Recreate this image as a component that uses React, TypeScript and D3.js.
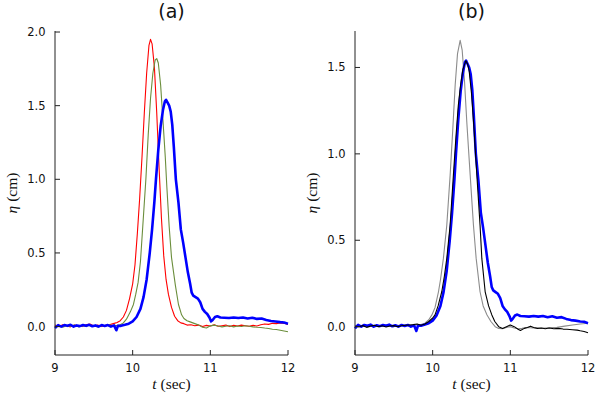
import React from "react";
import * as d3 from "d3";

const X_TICKS = [9, 10, 11, 12];
const A_Y_TICKS = [0, 0.5, 1, 1.5, 2];
const B_Y_TICKS = [0, 0.5, 1, 1.5];

// Panel (a) red
const redA: [number, number][] = [
  [9.0, 0.01], [9.05, 0.0], [9.1, 0.012], [9.15, 0.004], [9.2, -0.002], [9.25, 0.01], [9.3, 0.006], [9.35, 0.0],
  [9.4, 0.012], [9.45, 0.018], [9.5, 0.004], [9.55, 0.01], [9.6, 0.0], [9.65, 0.008], [9.7, 0.012], [9.75, 0.02],
  [9.8, 0.028], [9.84, 0.04], [9.88, 0.065], [9.92, 0.11], [9.96, 0.19], [10.0, 0.29], [10.03, 0.42], [10.06, 0.63],
  [10.09, 0.87], [10.12, 1.15], [10.15, 1.45], [10.18, 1.72], [10.21, 1.91], [10.23, 1.95], [10.25, 1.92], [10.28, 1.76],
  [10.31, 1.45], [10.34, 1.08], [10.37, 0.74], [10.4, 0.48], [10.43, 0.32], [10.46, 0.22], [10.5, 0.13], [10.54, 0.07],
  [10.58, 0.04], [10.62, 0.025], [10.66, 0.02], [10.7, 0.01], [10.75, 0.012], [10.8, 0.006], [10.85, 0.01], [10.9, 0.0],
  [10.95, 0.008], [11.0, 0.004], [11.05, 0.012], [11.1, 0.002], [11.15, 0.006], [11.2, 0.01], [11.25, 0.0], [11.3, 0.008],
  [11.35, 0.004], [11.4, 0.01], [11.45, 0.006], [11.5, 0.002], [11.55, 0.008], [11.6, 0.004], [11.65, 0.012], [11.7, 0.018],
  [11.75, 0.015], [11.8, 0.022], [11.85, 0.02], [11.9, 0.025], [11.95, 0.022], [12.0, 0.015],
];

// Panel (a) green
const greenA: [number, number][] = [
  [9.0, 0.0], [9.05, 0.008], [9.1, -0.004], [9.15, 0.006], [9.2, 0.002], [9.25, 0.01], [9.3, -0.002], [9.35, 0.006],
  [9.4, 0.0], [9.45, 0.01], [9.5, 0.004], [9.55, -0.002], [9.6, 0.008], [9.65, 0.002], [9.7, 0.012], [9.75, 0.006],
  [9.8, 0.008], [9.84, 0.012], [9.88, 0.025], [9.92, 0.05], [9.97, 0.1], [10.01, 0.15], [10.04, 0.22], [10.07, 0.3],
  [10.1, 0.44], [10.13, 0.68], [10.17, 1.0], [10.2, 1.3], [10.23, 1.55], [10.26, 1.72], [10.29, 1.81], [10.31, 1.82],
  [10.33, 1.79], [10.36, 1.64], [10.39, 1.4], [10.42, 1.15], [10.44, 0.95], [10.47, 0.68], [10.5, 0.47], [10.55, 0.28],
  [10.59, 0.15], [10.63, 0.08], [10.66, 0.055], [10.7, 0.04], [10.74, 0.032], [10.8, 0.02], [10.85, 0.01], [10.9, -0.005],
  [10.95, -0.01], [11.0, 0.005], [11.05, 0.01], [11.1, 0.004], [11.15, -0.002], [11.2, 0.002], [11.25, 0.006], [11.3, -0.002],
  [11.35, 0.004], [11.4, 0.0], [11.45, 0.006], [11.5, 0.002], [11.55, -0.002], [11.6, -0.005], [11.65, -0.006], [11.7, -0.01],
  [11.75, -0.013], [11.8, -0.018], [11.85, -0.02], [11.9, -0.025], [11.95, -0.03], [12.0, -0.035],
];

// Measured (blue), shared by both panels
const blueExp: [number, number][] = [
  [9.0, -0.01], [9.04, 0.01], [9.08, 0.0], [9.12, 0.01], [9.16, 0.005], [9.2, 0.012], [9.24, 0.0], [9.28, 0.008],
  [9.32, 0.003], [9.36, 0.01], [9.4, 0.005], [9.44, 0.012], [9.48, 0.002], [9.52, 0.008], [9.56, 0.0], [9.6, 0.01],
  [9.64, 0.004], [9.68, 0.01], [9.72, 0.0], [9.76, 0.008], [9.79, -0.025], [9.81, 0.005], [9.85, 0.005], [9.9, 0.012],
  [9.95, 0.02], [10.0, 0.035], [10.05, 0.065], [10.1, 0.12], [10.14, 0.2], [10.18, 0.32], [10.22, 0.5], [10.25, 0.66],
  [10.28, 0.85], [10.3, 1.0], [10.33, 1.2], [10.36, 1.36], [10.39, 1.47], [10.415, 1.53], [10.43, 1.54], [10.45, 1.52],
  [10.47, 1.5], [10.49, 1.46], [10.51, 1.37], [10.53, 1.22], [10.556, 1.0], [10.59, 0.84], [10.62, 0.66], [10.65, 0.57],
  [10.68, 0.47], [10.71, 0.37], [10.74, 0.29], [10.76, 0.23], [10.78, 0.21], [10.81, 0.2], [10.84, 0.19], [10.87, 0.165],
  [10.9, 0.12], [10.93, 0.1], [10.96, 0.085], [10.99, 0.06], [11.01, 0.035], [11.03, 0.045], [11.06, 0.065], [11.09, 0.07],
  [11.13, 0.062], [11.18, 0.06], [11.24, 0.058], [11.3, 0.062], [11.36, 0.058], [11.42, 0.062], [11.48, 0.055], [11.54, 0.06],
  [11.6, 0.052], [11.66, 0.055], [11.72, 0.045], [11.78, 0.038], [11.84, 0.035], [11.9, 0.03], [11.95, 0.028], [12.0, 0.02],
];

// Panel (b) gray
const grayB: [number, number][] = [
  [9.0, 0.005], [9.05, 0.0], [9.1, 0.008], [9.15, 0.003], [9.2, 0.01], [9.25, 0.0], [9.3, 0.006], [9.35, 0.002],
  [9.4, 0.009], [9.45, 0.004], [9.5, 0.0], [9.55, 0.008], [9.6, 0.005], [9.65, 0.01], [9.7, 0.003], [9.75, 0.008],
  [9.8, 0.012], [9.85, 0.012], [9.9, 0.02], [9.95, 0.04], [9.99, 0.068], [10.03, 0.11], [10.074, 0.2], [10.1, 0.27],
  [10.138, 0.395], [10.182, 0.588], [10.225, 0.877], [10.26, 1.15], [10.29, 1.4], [10.32, 1.58], [10.354, 1.657], [10.38, 1.6],
  [10.41, 1.42], [10.44, 1.18], [10.483, 0.877], [10.525, 0.588], [10.56, 0.395], [10.61, 0.202], [10.65, 0.12], [10.7, 0.068],
  [10.75, 0.03], [10.805, 0.0], [10.85, -0.01], [10.9, -0.012], [10.95, -0.005], [11.0, 0.0], [11.05, -0.008], [11.1, -0.012],
  [11.15, -0.01], [11.2, -0.005], [11.3, -0.008], [11.4, -0.01], [11.5, -0.006], [11.6, -0.004], [11.7, 0.003], [11.8, 0.01],
  [11.9, 0.015], [12.0, 0.02],
];

// Panel (b) black
const blackB: [number, number][] = [
  [9.0, 0.002], [9.05, 0.0], [9.1, 0.006], [9.15, -0.004], [9.2, 0.003], [9.25, 0.008], [9.3, 0.0], [9.35, 0.005],
  [9.4, -0.002], [9.45, 0.004], [9.5, 0.006], [9.55, 0.0], [9.6, 0.005], [9.65, 0.008], [9.7, 0.01], [9.75, 0.012],
  [9.8, 0.015], [9.85, 0.008], [9.9, 0.015], [9.95, 0.03], [10.0, 0.05], [10.03, 0.068], [10.07, 0.12], [10.117, 0.202],
  [10.15, 0.29], [10.182, 0.395], [10.225, 0.588], [10.267, 0.877], [10.3, 1.1], [10.33, 1.28], [10.36, 1.4], [10.39, 1.49],
  [10.427, 1.538], [10.45, 1.52], [10.47, 1.48], [10.5, 1.35], [10.53, 1.16], [10.569, 0.877], [10.61, 0.588], [10.633, 0.395],
  [10.676, 0.202], [10.72, 0.12], [10.762, 0.068], [10.8, 0.03], [10.85, 0.0], [10.9, -0.01], [10.95, 0.0], [11.0, 0.01],
  [11.05, 0.0], [11.1, -0.015], [11.13, -0.022], [11.18, -0.01], [11.22, -0.005], [11.26, 0.003], [11.3, -0.005], [11.35, -0.01],
  [11.4, -0.008], [11.45, -0.012], [11.5, -0.008], [11.56, -0.012], [11.62, -0.01], [11.68, -0.014], [11.73, -0.015], [11.8, -0.018],
  [11.86, -0.02], [11.9, -0.024], [11.95, -0.028], [12.0, -0.035],
];

const TOP = 31;
const BOTTOM = 355;
const SANS = "'DejaVu Sans', sans-serif";
const SERIF = "'Liberation Serif', 'DejaVu Serif', serif";

type Series = { data: [number, number][]; color: string; width: number };

function Panel(props: {
  left: number;
  right: number;
  yDomain: [number, number];
  yTicks: number[];
  title: string;
  series: Series[];
}) {
  const { left, right, yDomain, yTicks, title, series } = props;
  const x = d3.scaleLinear().domain([9, 12]).range([left, right]);
  const y = d3.scaleLinear().domain(yDomain).range([BOTTOM, TOP]);
  const line = d3
    .line<[number, number]>()
    .x((d) => x(d[0]))
    .y((d) => y(d[1]));
  const cx = (left + right) / 2;
  const cy = (TOP + BOTTOM) / 2;
  return (
    <g>
      <defs>
        <clipPath id={"clip" + title}>
          <rect x={left} y={TOP - 2} width={right - left} height={BOTTOM - TOP + 2} />
        </clipPath>
      </defs>
      <g clipPath={`url(#clip${title})`}>
        {series.map((s, i) => (
          <path
            key={i}
            d={line(s.data) || ""}
            fill="none"
            stroke={s.color}
            strokeWidth={s.width}
            strokeLinejoin="round"
          />
        ))}
      </g>
      <line x1={left} x2={left} y1={TOP} y2={BOTTOM} stroke="#222" strokeWidth={1} />
      <line x1={left} x2={right} y1={BOTTOM} y2={BOTTOM} stroke="#222" strokeWidth={1} />
      {yTicks.map((t) => (
        <g key={"y" + t}>
          <line x1={left} x2={left + 5} y1={y(t)} y2={y(t)} stroke="#222" strokeWidth={1} />
          <text
            x={left - 9.5}
            y={y(t)}
            dy="0.35em"
            textAnchor="end"
            fontFamily={SANS}
            fontSize={11.5}
            fill="#111"
          >
            {t.toFixed(1)}
          </text>
        </g>
      ))}
      {X_TICKS.map((t) => (
        <g key={"x" + t}>
          <line x1={x(t)} x2={x(t)} y1={BOTTOM} y2={BOTTOM - 5} stroke="#222" strokeWidth={1} />
          <text x={x(t)} y={BOTTOM + 17} textAnchor="middle" fontFamily={SANS} fontSize={11.5} fill="#111">
            {t}
          </text>
        </g>
      ))}
      <text x={cx} y={17.5} textAnchor="middle" fontFamily={SANS} fontSize={19} fill="#111">
        {title}
      </text>
      <text x={cx} y={389} textAnchor="middle" fontFamily={SERIF} fontSize={15.5} fill="#111">
        <tspan fontStyle="italic">t</tspan>
        <tspan> (sec)</tspan>
      </text>
      <text
        transform={`translate(${left - 38},${cy}) rotate(-90)`}
        textAnchor="middle"
        fontFamily={SERIF}
        fontSize={15.5}
        fill="#111"
      >
        <tspan fontStyle="italic">η</tspan>
        <tspan> (cm)</tspan>
      </text>
    </g>
  );
}

export default function App() {
  return (
    <svg width={600} height={400} style={{ position: "absolute", left: 0, top: 0, background: "#fff" }}>
      <rect width={600} height={400} fill="#fff" />
      <Panel
        left={55}
        right={288}
        yDomain={[-0.193, 2.007]}
        yTicks={A_Y_TICKS}
        title="(a)"
        series={[
          { data: redA, color: "#ff0000", width: 1.1 },
          { data: greenA, color: "#6b8e3c", width: 1.1 },
          { data: blueExp, color: "#0000ff", width: 2.6 },
        ]}
      />
      <Panel
        left={355}
        right={588}
        yDomain={[-0.164, 1.711]}
        yTicks={B_Y_TICKS}
        title="(b)"
        series={[
          { data: grayB, color: "#8c8c8c", width: 1.1 },
          { data: blueExp, color: "#0000ff", width: 2.6 },
          { data: blackB, color: "#000000", width: 1.1 },
        ]}
      />
    </svg>
  );
}
